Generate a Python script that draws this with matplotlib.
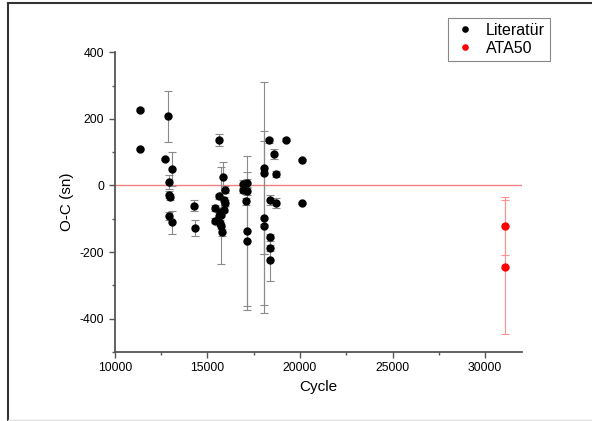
import numpy as np
import matplotlib.pyplot as plt
from matplotlib.ticker import MultipleLocator
from matplotlib.lines import Line2D

plt.rcParams['font.family'] = ['Liberation Sans', 'DejaVu Sans']
plt.rcParams['axes.unicode_minus'] = False

# Literatur O-C verileri: cycle, O-C (sn), hata alt/ust
lit_x = [11350, 11350, 12880, 12700, 13100, 12940, 12940, 12980, 12940, 13100,
         14290, 14340,
         15620, 15820, 15950, 15650, 15870, 15430, 15950, 15700, 15900, 15430,
         15700, 15600, 15800, 15750, 15750,
         16940, 17120, 16900, 17150, 17080, 17120, 17120,
         18070, 18070, 18070, 18070,
         18350, 18620, 18680, 18380, 18680, 18380, 18380, 18380,
         19270, 20130, 20130]
lit_y = [227, 109, 207, 79, 49, 10, -28, -35, -93, -111,
         -61, -128,
         136, 25, -13, -33, -43, -68, -53, -81, -73, -106,
         -113, -91, -141, -123, -90,
         5, 7, -13, -18, -48, -136, -166,
         52, 37, -98, -123,
         135, 94, 34, -45, -53, -156, -188, -223,
         137, 77, -53]
lit_elo = [4, 4, 78, 4, 50, 20, 10, 10, 12, 35,
           16, 25,
           17, 46, 10, 8, 8, 8, 8, 8, 8, 8,
           8, 8, 10, 8, 145,
           12, 12, 10, 10, 10, 225, 207,
           258, 421, 260, 83,
           8, 15, 8, 15, 15, 10, 10, 65,
           4, 3, 3]
lit_ehi = [4, 4, 78, 4, 50, 20, 10, 10, 12, 35,
           16, 25,
           17, 46, 10, 8, 8, 8, 8, 8, 8, 8,
           8, 8, 10, 8, 145,
           12, 12, 10, 10, 10, 225, 207,
           82, 274, 260, 8,
           8, 15, 8, 15, 15, 10, 10, 65,
           4, 3, 3]

# ATA50 gozlemleri
ata_x = [31050, 31050]
ata_y = [-121, -245]
ata_err = [87, 200]

fig = plt.figure(figsize=(5.92, 4.21), dpi=100)
ax = fig.add_axes([0.194, 0.164, 0.688, 0.712])

ax.axhline(0, color='#f08080', lw=1, zorder=1)

ax.errorbar(lit_x, lit_y, yerr=[lit_elo, lit_ehi], fmt='none',
            ecolor='#8a8a8a', elinewidth=0.8, capsize=3, capthick=0.8, zorder=2)
ax.errorbar(ata_x, ata_y, yerr=ata_err, fmt='none',
            ecolor='#ff9090', elinewidth=0.8, capsize=3, capthick=0.8, zorder=2)
ax.plot(lit_x, lit_y, 'o', color='black', ms=5, label='Literatür', zorder=3)
ax.plot(ata_x, ata_y, 'o', color='red', ms=5, label='ATA50', zorder=3)

ax.set_xlim(10000, 32000)
ax.set_ylim(-500, 400)
ax.xaxis.set_major_locator(MultipleLocator(5000))
ax.xaxis.set_minor_locator(MultipleLocator(2500))
ax.yaxis.set_major_locator(MultipleLocator(200))
ax.yaxis.set_minor_locator(MultipleLocator(100))

for s in ['top', 'right']:
    ax.spines[s].set_visible(False)
for s in ['left', 'bottom']:
    ax.spines[s].set_color('#555555')
    ax.spines[s].set_linewidth(1.3)
ax.tick_params(which='major', direction='out', length=4, width=1, color='#555555',
               labelsize=8.8)
ax.tick_params(which='minor', direction='out', length=2.5, width=1, color='#555555')

ax.set_xlabel('Cycle', fontsize=11)
ax.set_ylabel('O-C (sn)', fontsize=11)

leg = ax.legend(loc='upper right', bbox_to_anchor=(550/592, 1 - 18/421),
                bbox_transform=fig.transFigure, borderaxespad=0,
                fontsize=11.5, markerscale=0.75, handletextpad=0.6,
                fancybox=False, framealpha=1, edgecolor='#888888',
                handlelength=1.5, borderpad=0.3, labelspacing=0.2)
leg.get_frame().set_linewidth(0.8)

# cerceve
fig.add_artist(Line2D([8/592, 8/592], [0, 1 - 3/421], color='#333333', lw=1.5,
                      transform=fig.transFigure))
fig.add_artist(Line2D([8/592, 1], [1 - 3/421, 1 - 3/421], color='#333333', lw=1.5,
                      transform=fig.transFigure))
fig.add_artist(Line2D([8/592, 1], [1/421, 1/421], color='#dddddd', lw=1,
                      transform=fig.transFigure))

fig.savefig('out.png', dpi=100)
